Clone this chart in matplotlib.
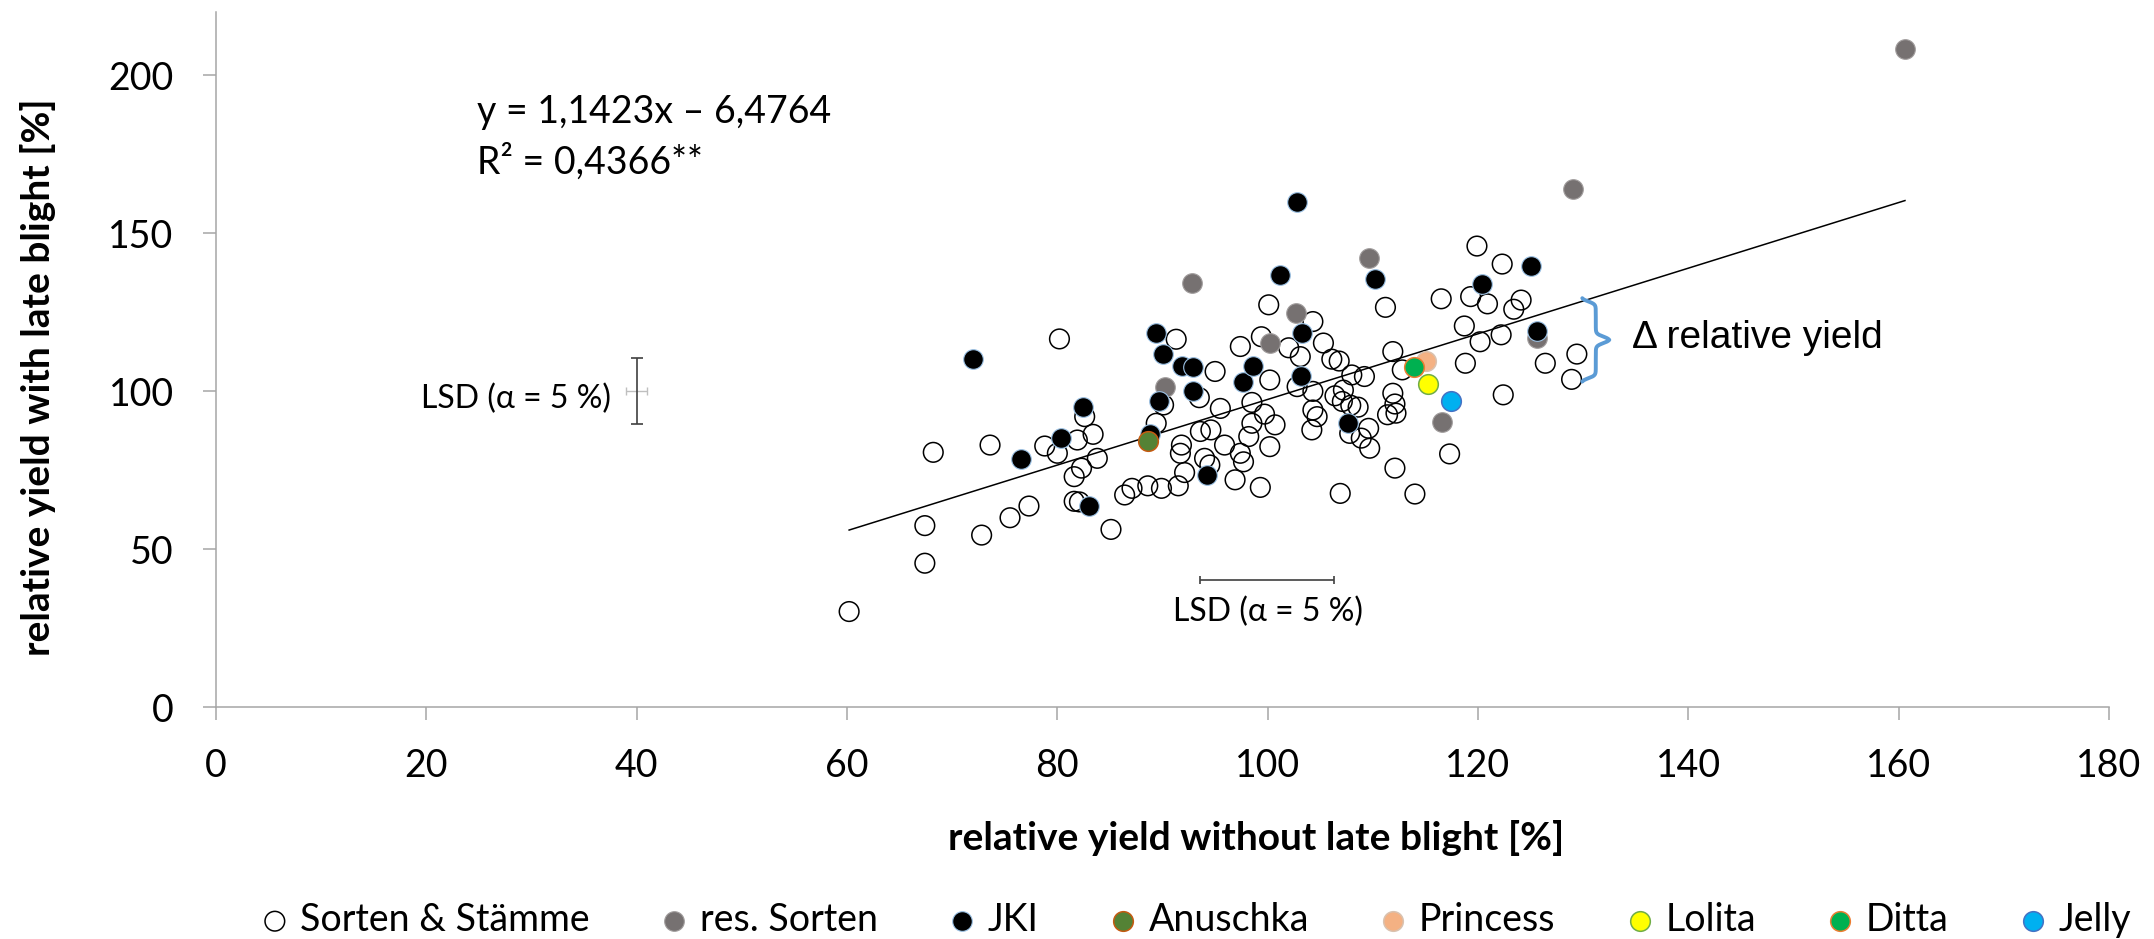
import numpy as np
import matplotlib
matplotlib.use("Agg")
import matplotlib.pyplot as plt

# Sorten & Staemme (open circles)
sorten_x = [60.2, 67.4, 67.4, 68.2, 72.8, 73.6, 75.5, 77.3, 78.8, 80.0, 81.9, 83.4, 82.6, 83.8,
            82.3, 81.6, 81.6, 82.1, 85.1, 86.4, 87.1, 88.6, 80.2,
            89.4, 89.9, 91.5, 91.8, 91.7, 92.1, 93.6, 94.6, 94.0, 94.5, 95.9, 96.9, 97.4, 97.7,
            98.2, 99.3, 100.2, 100.7, 99.7, 98.5, 98.5, 95.5, 90.1, 93.5, 91.3, 95.0, 97.4, 99.4,
            100.1, 100.2, 102.0, 103.1, 102.8, 104.3, 105.3, 106.1, 106.8, 108.0, 109.2, 104.3,
            104.3, 104.7, 104.2, 106.4, 107.1, 107.9, 108.6, 107.2, 107.8, 108.9, 109.6, 109.7,
            111.9, 112.1, 112.2, 111.4, 112.8, 111.9, 111.2, 112.1, 106.9, 114.0, 117.3, 116.5,
            119.3, 120.9, 123.4, 124.1, 119.9, 122.3, 118.7, 120.2, 122.2, 118.8, 126.4, 129.4,
            128.9, 122.4]
sorten_y = [30.3, 45.6, 57.5, 80.7, 54.5, 83.0, 60.0, 63.7, 82.7, 80.4, 84.6, 86.4, 92.0, 78.8,
            75.7, 73.0, 65.2, 65.0, 56.3, 67.2, 69.3, 70.1, 116.6,
            89.9, 69.3, 70.1, 83.0, 80.4, 74.3, 87.3, 87.8, 78.8, 76.7, 83.0, 72.0, 80.4, 77.7,
            85.7, 69.6, 82.5, 89.4, 92.8, 96.5, 89.9, 94.6, 95.7, 98.0, 116.5, 106.3, 114.2, 117.3,
            127.4, 103.6, 113.8, 111.0, 101.5, 122.1, 115.3, 110.2, 109.6, 105.2, 104.7, 100.0,
            94.1, 92.0, 87.8, 98.6, 96.8, 95.6, 95.0, 100.4, 86.7, 85.2, 88.3, 82.0,
            99.4, 96.0, 93.1, 92.6, 106.8, 112.6, 126.6, 75.7, 67.7, 67.5, 80.2, 129.3,
            130.0, 127.7, 126.0, 128.9, 146.0, 140.3, 120.7, 115.7, 117.9, 108.9, 108.9, 111.8,
            103.8, 98.9]

# resistant varieties (grey)
res_x = [92.8, 90.2, 100.2, 102.7, 109.6, 116.6, 125.6, 129.0, 160.6]
res_y = [134.4, 101.3, 115.4, 124.7, 142.1, 90.4, 116.8, 164.0, 208.3]

# JKI (black)
jki_x = [72.0, 76.5, 80.3, 82.4, 83.0, 88.8, 89.4, 90.0, 91.9, 92.9, 92.9, 89.7, 97.7, 98.6,
         101.2, 102.8, 103.3, 103.2, 107.6, 110.2, 120.4, 125.0, 125.6, 94.2]
jki_y = [110.2, 78.5, 85.3, 95.0, 63.7, 86.6, 118.6, 111.7, 108.1, 107.6, 100.0, 97.1, 102.9, 108.0,
         136.8, 160.0, 118.6, 105.0, 90.1, 135.6, 133.9, 139.8, 119.1, 73.5]

# single varieties
variety_names = ["Anuschka", "Princess", "Lolita", "Ditta", "Jelly"]
variety_x = [88.6, 115.1, 115.2, 113.9, 117.4]
variety_y = [84.4, 109.7, 102.2, 107.6, 97.1]
variety_face = ["#548235", "#f4b183", "#ffff00", "#00b050", "#00b0f0"]
variety_edge = ["#c55a11", "#d9c2b0", "#70ad47", "#ed7d31", "#4472c4"]

# drawn trend line (end points)
trend_x = [60.2, 160.6]
trend_y = [56.1, 160.4]

x_ticks = [0, 20, 40, 60, 80, 100, 120, 140, 160, 180]
y_ticks = [0, 50, 100, 150, 200]

FONT = ["Lato", "DejaVu Sans"]
plt.rcParams["font.family"] = FONT
AX_GREY = "#a6a6a6"
MS = 200


def draw_brace(ax, x0, y_lo, y_hi, width, color):
    t = np.linspace(0, 1, 301)
    half = np.where(t < 0.5, t, 1 - t)
    k = 60
    xs = x0 + width * (0.5 / (1 + np.exp(-k * (half - 0.04))) + 0.5 / (1 + np.exp(-k * (half - 0.46))))
    ys = y_lo + (y_hi - y_lo) * t
    ax.plot(xs, ys, color=color, lw=2.8, solid_capstyle="round", zorder=7)


fig = plt.figure(figsize=(21.54, 9.39), dpi=100)
ax = fig.add_axes([0.1003, 0.2468, 0.8788, 0.7401])

ax.plot(trend_x, trend_y, color="black", lw=1.1, zorder=2)

h_sorten = ax.scatter(sorten_x, sorten_y, s=MS, facecolor="none", edgecolor="black", lw=1.1,
                      zorder=3, label="Sorten & Stämme")
h_res = ax.scatter(res_x, res_y, s=MS, facecolor="#767171", edgecolor="#a29e9e", lw=0.8,
                   zorder=4, label="res. Sorten")
h_jki = ax.scatter(jki_x, jki_y, s=MS, facecolor="black", edgecolor="#9dc3e6", lw=0.8,
                   zorder=5, label="JKI")
handles = [h_sorten, h_res, h_jki]
for i in range(len(variety_names)):
    h = ax.scatter([variety_x[i]], [variety_y[i]], s=MS, facecolor=variety_face[i],
                   edgecolor=variety_edge[i], lw=1.1, zorder=6, label=variety_names[i])
    handles.append(h)

# LSD bars
ax.errorbar(40, 100, xerr=1.0, fmt="none", ecolor="#bfbfbf", elinewidth=1.0, capsize=3, capthick=1.0, zorder=3)
ax.errorbar(40, 100.2, yerr=10.5, fmt="none", ecolor="#404040", elinewidth=1.2, capsize=4.5, capthick=1.2, zorder=3)
ax.errorbar(99.95, 40.3, xerr=6.35, fmt="none", ecolor="#404040", elinewidth=1.2, capsize=3, capthick=1.2, zorder=3)
ax.text(37.6, 94.6, "LSD (α = 5 %)", fontsize=23, ha="right", va="baseline", family=FONT)
ax.text(100.0, 27.3, "LSD (α = 5 %)", fontsize=23, ha="center", va="baseline", family=FONT)

ax.text(24.8, 184.9, "y = 1,1423x – 6,4764", fontsize=27, ha="left", va="baseline")
ax.text(24.8, 169.0, "R² = 0,4366**", fontsize=27, ha="left", va="baseline")

draw_brace(ax, 129.8, 103.1, 129.5, 2.8, "#5b9bd5")
ax.text(134.6, 113.6, "Δ relative yield", fontsize=28, ha="left", va="baseline",
        family=["Liberation Sans", "DejaVu Sans"])

ax.set_xlim(0, 180)
ax.set_ylim(0, 220)
ax.set_xticks(x_ticks)
ax.set_yticks(y_ticks)
ax.tick_params(axis="both", direction="out", length=9.5, width=1.1, color=AX_GREY, labelsize=27)
ax.tick_params(axis="x", pad=19.5)
ax.tick_params(axis="y", pad=21)
for side in ["top", "right"]:
    ax.spines[side].set_visible(False)
for side in ["left", "bottom"]:
    ax.spines[side].set_color(AX_GREY)
    ax.spines[side].set_linewidth(1.1)

ax.text(0.5494, -0.2053, "relative yield without late blight [%]", transform=ax.transAxes,
        fontsize=28, fontweight="bold", ha="center", va="baseline")
ax.text(-0.094, 0.475, "relative yield with late blight [%]", transform=ax.transAxes,
        fontsize=28, fontweight="bold", ha="center", va="center", rotation=90)

fig.legend(handles=handles, loc="center", bbox_to_anchor=(0.555, 0.0202), ncol=8, frameon=False,
           fontsize=27, handlelength=0.8, handletextpad=0.28, columnspacing=1.85, borderaxespad=0,
           borderpad=0)

fig.savefig("out.png", dpi=100)
